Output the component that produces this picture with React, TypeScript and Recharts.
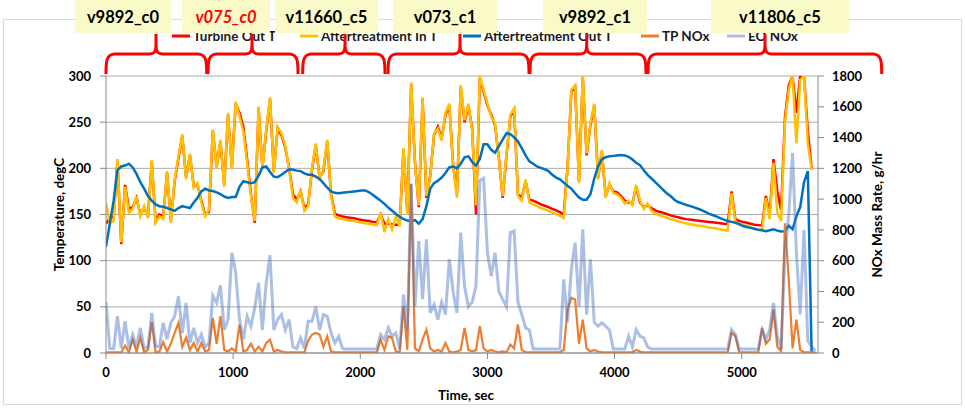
import React from 'react';
import { ComposedChart, Line, XAxis, YAxis, CartesianGrid, Legend, Label } from 'recharts';

// ---------- data ----------
const TIME = [
  0, 30, 60, 90, 120, 150, 180, 210, 240, 270,
  300, 330, 360, 390, 420, 450, 480, 510, 540, 570,
  600, 630, 660, 690, 720, 750, 780, 810, 840, 870,
  900, 930, 960, 990, 1020, 1050, 1080, 1110, 1140, 1170,
  1200, 1230, 1260, 1290, 1320, 1350, 1380, 1410, 1440, 1470,
  1500, 1530, 1560, 1590, 1620, 1650, 1680, 1710, 1740, 1770,
  1800, 1830, 1860, 1890, 1920, 1950, 1980, 2010, 2040, 2070,
  2100, 2130, 2160, 2190, 2220, 2250, 2280, 2310, 2340, 2370,
  2400, 2430, 2460, 2490, 2520, 2550, 2580, 2610, 2640, 2670,
  2700, 2730, 2760, 2790, 2820, 2850, 2880, 2910, 2940, 2970,
  3000, 3030, 3060, 3090, 3120, 3150, 3180, 3210, 3240, 3270,
  3300, 3330, 3360, 3390, 3420, 3450, 3480, 3510, 3540, 3570,
  3600, 3630, 3660, 3690, 3720, 3750, 3780, 3810, 3840, 3870,
  3900, 3930, 3960, 3990, 4020, 4050, 4080, 4110, 4140, 4170,
  4200, 4230, 4260, 4290, 4320, 4350, 4380, 4410, 4440, 4470,
  4500, 4530, 4560, 4590, 4620, 4650, 4680, 4710, 4740, 4770,
  4800, 4830, 4860, 4890, 4920, 4950, 4980, 5010, 5040, 5070,
  5100, 5130, 5160, 5190, 5220, 5250, 5280, 5310, 5340, 5370,
  5400, 5430, 5460, 5490, 5520, 5550, 5580,
];

const TURBINE_OUT_T: (number | null)[] = [
  140, 146, 147, 208, 118, 182, 156, 158, 168, 150,
  157, 148, 207, 143, 150, 148, 195, 144, 186, 211,
  235, 190, 214, 181, 182, 165, 150, 153, 240, 202,
  229, 182, 258, 201, 270, 260, 245, 210, 172, 141,
  265, 201, 240, 275, 197, 243, 236, 222, 201, 172,
  166, 175, 157, 161, 198, 225, 190, 197, 229, 172,
  151, 149, 148, 147, 146.5, 146, 145, 144, 143.5, 143,
  142, 141.5, 150, 140, 140, 139.5, 139, 139, 220, 152,
  291, 207, 158, 275, 168, 192, 236, 245, 232, 258,
  268, 204, 172, 288, 250, 268, 243, 150, 298, 283,
  268, 258, 247, 211, 168, 214, 256, 263, 172, 168,
  186, 166, 165, 163, 161, 159.5, 158, 156, 154.5, 152.5,
  150, 201, 283, 288, 186, 298, 214, 247, 268, 190,
  218, 170, 182, 175, 174, 170, 165, 163, 162, 180,
  163, 158, 160, 157, 154.5, 153, 152, 150.5, 149, 148,
  147, 146, 145, 144.5, 144, 143.5, 143, 142.5, 142, 141.5,
  141, 140.5, 140, 139.6, 175, 145, 143, 142, 141, 140,
  139, 138.5, 138, 170, 150, 210, 175, 155, 255, 290,
  300, 260, 300, 300, 240, 200, null,
];

const AT_IN_T: (number | null)[] = [
  162, 141, 143, 210, 120, 180, 152, 156, 170, 148,
  159, 146, 209, 141, 148, 145, 197, 141, 188, 213,
  237, 188, 216, 179, 184, 163, 148, 155, 242, 200,
  231, 180, 260, 199, 272, 256, 240, 206, 170, 143,
  267, 199, 242, 277, 195, 245, 238, 224, 199, 168,
  163, 177, 154, 159, 200, 227, 188, 199, 231, 170,
  148, 146, 145, 144, 143.5, 143, 142, 141, 140.5, 140,
  139, 138.5, 152, 131, 145, 134, 148, 137, 222, 150,
  293, 205, 160, 277, 170, 190, 238, 243, 230, 260,
  270, 202, 168, 290, 252, 270, 241, 160, 300, 285,
  270, 256, 249, 209, 170, 216, 258, 265, 170, 165,
  188, 163, 161, 159, 157, 155.5, 154, 152, 150.5, 148.5,
  146, 199, 285, 290, 184, 300, 216, 249, 270, 188,
  220, 168, 184, 173, 172, 168, 162, 165, 160, 182,
  165, 156, 162, 154, 151, 149.5, 148, 146.5, 145, 144,
  142.5, 141.5, 140.5, 139.5, 138.8, 138, 137.5, 137, 136, 135.5,
  134.8, 134, 133.3, 132.6, 173, 142, 140, 139, 137.5, 136,
  134.5, 133.5, 133, 168, 145, 206, 152, 143, 250, 285,
  300, 227, 296, 300, 227, 198, null,
];

const AT_OUT_T: (number | null)[] = [
  115, 140, 165, 198, 202, 203, 205, 201, 194, 185,
  178, 170, 165, 161, 159, 158.5, 157, 155.5, 154, 157,
  159, 158, 157, 163, 168, 175, 178, 176, 175.5, 174,
  172, 169.5, 168, 169, 169, 180, 186, 185, 184, 185,
  192, 201, 202, 196, 191, 190.5, 193, 196, 199, 198.5,
  197.5, 197, 194.5, 193, 193, 191, 188.5, 184, 179, 175,
  173.5, 173, 173.5, 174, 174.5, 175, 175.5, 176, 176, 174,
  171, 168, 165, 161.5, 157.5, 154, 150.5, 147.5, 145, 143.5,
  143, 144, 140, 145, 159, 178, 184, 186.5, 190, 195,
  201, 202, 200, 205, 212, 213, 207, 203, 210, 226,
  226, 220, 217, 224, 231, 238, 237, 233.5, 229, 222,
  214, 207.5, 205, 202, 200.5, 199, 197, 193, 190, 188,
  184.5, 181, 178, 173, 168.5, 166, 166, 172, 189, 202,
  210, 212, 213, 213.5, 214, 214.5, 214, 212.5, 209.5, 206,
  203.5, 198, 193, 189, 185, 181, 177, 173, 170, 166,
  163.5, 162, 160.5, 159.3, 158, 156.5, 155, 153, 151, 149.5,
  148, 146, 144.5, 143, 142, 141, 139.5, 137.5, 136.5, 135.5,
  134.5, 133.5, 133, 132, 133, 134, 132.5, 131.5, 132, 138,
  134, 148, 158, 185, 197, 0, null,
];

const TP_NOX = [
  5, 4, 4, 5, 4, 48, 5, 87, 10, 98,
  5, 20, 200, 5, 10, 70, 10, 60, 130, 196,
  40, 100, 20, 65, 10, 65, 10, 20, 228, 60,
  239, 20, 10, 30, 10, 185, 10, 20, 60, 10,
  40, 10, 65, 87, 10, 20, 10, 5, 5, 5,
  4, 5, 4, 80, 120, 130, 120, 40, 109, 10,
  5, 4, 4, 4, 4, 4, 4, 4, 4, 4,
  4, 4, 87, 20, 109, 98, 10, 5, 304, 20,
  1100, 30, 10, 87, 152, 30, 10, 20, 10, 65,
  10, 5, 10, 20, 163, 20, 10, 20, 174, 30,
  10, 20, 10, 5, 10, 5, 55, 30, 185, 20,
  5, 5, 4, 4, 4, 4, 4, 4, 4, 4,
  20, 283, 359, 348, 60, 217, 30, 10, 20, 10,
  5, 5, 5, 4, 4, 4, 4, 5, 4, 20,
  10, 5, 4, 4, 4, 4, 4, 4, 4, 4,
  4, 4, 4, 4, 4, 4, 4, 4, 4, 4,
  4, 4, 4, 4, 130, 110, 5, 4, 4, 4,
  4, 4, 163, 60, 87, 283, 40, 10, 843, 478,
  30, 217, 20, 5, 5, 4, 4,
];

const EO_NOX = [
  330, 30, 28, 239, 30, 206, 30, 120, 40, 163,
  30, 40, 261, 45, 40, 196, 90, 196, 239, 370,
  130, 326, 65, 163, 65, 120, 40, 65, 374, 326,
  439, 150, 217, 652, 522, 217, 87, 239, 174, 293,
  456, 150, 456, 635, 150, 217, 250, 150, 217, 40,
  28, 98, 30, 206, 206, 300, 150, 250, 239, 130,
  65, 109, 30, 26, 26, 26, 26, 26, 26, 26,
  26, 26, 120, 87, 163, 109, 130, 26, 380, 150,
  1100, 300, 728, 350, 739, 260, 315, 217, 330, 250,
  609, 400, 261, 783, 435, 300, 330, 435, 1120, 1135,
  650, 500, 652, 400, 348, 300, 783, 793, 330, 250,
  163, 150, 26, 26, 26, 26, 26, 26, 26, 26,
  478, 200, 543, 717, 300, 804, 250, 609, 200, 174,
  196, 174, 150, 26, 26, 26, 26, 109, 40, 152,
  109, 98, 40, 26, 26, 26, 26, 26, 26, 26,
  26, 26, 26, 26, 26, 26, 26, 26, 26, 26,
  26, 26, 26, 26, 152, 120, 26, 26, 26, 26,
  26, 26, 152, 87, 152, 326, 109, 26, 652, 900,
  1300, 652, 250, 800, 80, 40, 15,
];

const X_TICKS = [0, 1000, 2000, 3000, 4000, 5000];
const TEMP_TICKS = [0, 50, 100, 150, 200, 250, 300];
const NOX_TICKS = [0, 200, 400, 600, 800, 1000, 1200, 1400, 1600, 1800];

const SEGMENT_LABELS = ['v9892_c0', 'v075_c0', 'v11660_c5', 'v073_c1', 'v9892_c1', 'v11806_c5'];

// ---------- layout / style ----------
const FONT = "Lato, 'Open Sans', sans-serif";
const C_RED = '#FF0000';
const C_AMBER = '#FFC000';
const C_BLUE = '#0070C0';
const C_ORANGE = '#ED7D31';
const C_EO = '#4472C4';
const EO_OPACITY = 0.45;
const AXIS_C = '#898989';
const GRID_C = '#ABABAB';

const BOXES = [
  [75, 171], [182, 270], [275, 378], [393, 497], [543, 647], [711, 849],
];
const BRACES = [
  [106, 156, 206.7], [208, 252, 298], [302.7, 345, 385],
  [388, 460, 529], [530, 586.7, 646], [648, 765, 881.7],
];
const LEGEND_POS: Record<string, number> = {
  'Turbine Out T': 172,
  'Aftertreatment In T': 300,
  'Aftertreatment Out T': 463,
  'TP NOx': 641,
  'EO NOx': 727,
};

const rows = TIME.map((t, i) => ({
  t,
  turbine: TURBINE_OUT_T[i],
  atIn: AT_IN_T[i],
  atOut: AT_OUT_T[i],
  tp: TP_NOX[i],
  eo: EO_NOX[i],
}));

const tickStyle = { fontFamily: FONT, fontSize: 13, fontWeight: 700, fill: '#000' };

function LegendContent(props: any) {
  const payload = props.payload || [];
  return (
    <svg width={965} height={30} style={{ display: 'block', overflow: 'visible' }}>
      {payload.map((p: any) => {
        const x = LEGEND_POS[p.value];
        if (x === undefined) return null;
        return (
          <g key={p.value}>
            <line x1={x} x2={x + 18} y1={16} y2={16} stroke={p.color} strokeWidth={3}
              strokeOpacity={p.value === 'EO NOx' ? EO_OPACITY : 1} />
            <text x={x + 21} y={21} fontFamily={FONT} fontSize={13.5} fontWeight={700} fill="#1a1a1a">
              {p.value}
            </text>
          </g>
        );
      })}
    </svg>
  );
}

function YTitle(text: string) {
  return (props: any) => {
    const vb = props.viewBox || { x: 0, y: 76, width: 106, height: 277 };
    const cx = vb.x + 59;
    const cy = vb.y + vb.height / 2;
    return (
      <text x={cx} y={cy} transform={`rotate(-90 ${cx} ${cy})`} textAnchor="middle"
        dominantBaseline="central" fontFamily={FONT} fontSize={13.5} fontWeight={700} fill="#000">
        {text}
      </text>
    );
  };
}

function XTitle(props: any) {
  const vb = props.viewBox || { x: 106, y: 353, width: 712, height: 59 };
  const cx = vb.x + vb.width / 2 + 4;
  const cy = vb.y + 42;
  return (
    <text x={cx} y={cy} textAnchor="middle" dominantBaseline="central"
      fontFamily={FONT} fontSize={13.5} fontWeight={700} fill="#000">
      Time, sec
    </text>
  );
}

function bracePath(x1: number, tip: number, x2: number) {
  const yb = 74, yh = 54, yt = 34;
  return [
    `M ${x1} ${yb} C ${x1} ${yh + 8}, ${x1} ${yh}, ${x1 + 9} ${yh}`,
    `L ${tip - 7} ${yh} C ${tip - 2} ${yh}, ${tip} ${yh - 2}, ${tip} ${yh - 9} L ${tip} ${yt}`,
    `M ${tip} ${yh - 9} C ${tip} ${yh - 2}, ${tip + 2} ${yh}, ${tip + 7} ${yh}`,
    `L ${x2 - 9} ${yh} C ${x2} ${yh}, ${x2} ${yh + 8}, ${x2} ${yb}`,
  ].join(' ');
}

function Overlay() {
  return (
    <svg width={965} height={412} style={{ position: 'absolute', left: 0, top: 0, zIndex: 5, pointerEvents: 'none' }}>
      {BRACES.map(([a, m, b], i) => (
        <path key={'b' + i} d={bracePath(a, m, b)} fill="none" stroke={C_RED} strokeWidth={3} />
      ))}
      {BOXES.map(([a, b], i) => (
        <g key={'x' + i}>
          <rect x={a} y={0} width={b - a} height={33} fill="#FAFAC8" />
          <text x={(a + b) / 2} y={22.7} textAnchor="middle" fontFamily={FONT} fontSize={16.5}
            fontWeight={700} fontStyle={i === 1 ? 'italic' : 'normal'} fill={i === 1 ? C_RED : '#000'}>
            {SEGMENT_LABELS[i]}
          </text>
        </g>
      ))}
    </svg>
  );
}

export default function App() {
  return (
    <div style={{ position: 'absolute', left: 0, top: 0, width: 965, height: 412, background: '#fff' }}>
      <svg width={965} height={412} style={{ position: 'absolute', left: 0, top: 0 }}>
        <rect x={3.5} y={19.5} width={958} height={385} fill="none" stroke="#D9D9D9" strokeWidth={1} />
      </svg>
      <div style={{ position: 'absolute', left: 0, top: 0 }}>
        <ComposedChart width={965} height={412} data={rows} margin={{ top: 76, right: 0, bottom: 0, left: 0 }}>
          <CartesianGrid vertical={false} yAxisId="left" stroke={GRID_C} strokeWidth={1} />
          <XAxis dataKey="t" type="number" domain={[0, 5600]} ticks={X_TICKS} allowDataOverflow
            height={59} tickSize={6} tickMargin={9} tick={tickStyle}
            axisLine={{ stroke: AXIS_C }} tickLine={{ stroke: AXIS_C }} interval={0}>
            <Label content={XTitle} />
          </XAxis>
          <YAxis yAxisId="left" orientation="left" width={106} domain={[0, 300]} ticks={TEMP_TICKS}
            allowDataOverflow tickSize={6} tickMargin={9} tick={tickStyle}
            axisLine={{ stroke: AXIS_C }} tickLine={{ stroke: AXIS_C }} interval={0}>
            <Label content={YTitle('Temperature, degC')} />
          </YAxis>
          <YAxis yAxisId="right" orientation="right" width={147} domain={[0, 1800]} ticks={NOX_TICKS}
            allowDataOverflow tickSize={6} tickMargin={8} tick={tickStyle}
            axisLine={{ stroke: AXIS_C }} tickLine={{ stroke: AXIS_C }} interval={0}>
            <Label content={YTitle('NOx Mass Rate, g/hr')} />
          </YAxis>
          <Legend layout="horizontal" verticalAlign="middle" align="center"
            wrapperStyle={{ position: 'absolute', top: 20, left: 0, width: 965, height: 30 }}
            content={LegendContent} />
          <Line yAxisId="left" type="linear" dataKey="turbine" name="Turbine Out T" stroke={C_RED}
            strokeWidth={2.5} dot={false} activeDot={false} isAnimationActive={false} />
          <Line yAxisId="left" type="linear" dataKey="atIn" name="Aftertreatment In T" stroke={C_AMBER}
            strokeWidth={2.5} dot={false} activeDot={false} isAnimationActive={false} />
          <Line yAxisId="left" type="linear" dataKey="atOut" name="Aftertreatment Out T" stroke={C_BLUE}
            strokeWidth={2.5} dot={false} activeDot={false} isAnimationActive={false} />
          <Line yAxisId="right" type="linear" dataKey="tp" name="TP NOx" stroke={C_ORANGE}
            strokeWidth={2.2} dot={false} activeDot={false} isAnimationActive={false} />
          <Line yAxisId="right" type="linear" dataKey="eo" name="EO NOx" stroke={C_EO} strokeOpacity={EO_OPACITY}
            strokeWidth={3} dot={false} activeDot={false} isAnimationActive={false} />
        </ComposedChart>
      </div>
      <Overlay />
    </div>
  );
}
